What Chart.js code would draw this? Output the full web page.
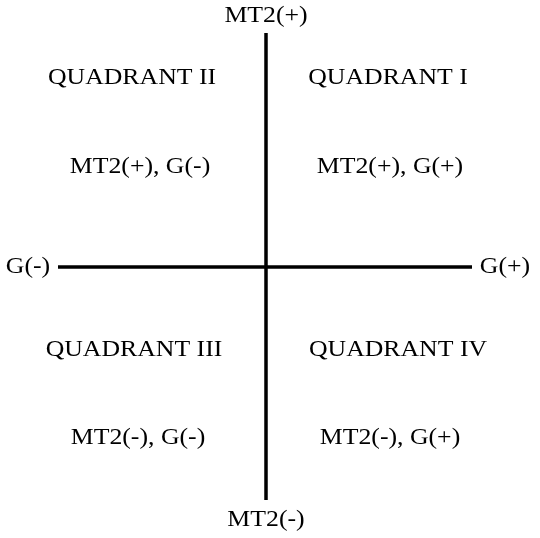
<!DOCTYPE html>
<html>
<head>
<meta charset="utf-8">
<script src="https://cdn.jsdelivr.net/npm/chart.js@4/dist/chart.umd.min.js"></script>
<style>
  html, body { margin: 0; padding: 0; background: #fff; }
  #wrap { width: 540px; height: 538px; }
</style>
</head>
<body>
<div id="wrap"><canvas id="c"></canvas></div>
<script>
// Axis lines (origin at the crossing)
const vAxis = [{ x: 0, y: 234 }, { x: 0, y: -233 }];
const hAxis = [{ x: -208, y: 0 }, { x: 206, y: 0 }];

// Text labels and their positions in the same units
const labelTexts = [
  'MT2(+)', 'MT2(-)', 'G(-)', 'G(+)',
  'QUADRANT II', 'QUADRANT I', 'MT2(+), G(-)', 'MT2(+), G(+)',
  'QUADRANT III', 'QUADRANT IV', 'MT2(-), G(-)', 'MT2(-), G(+)'
];
const labelX = [0, 0, -238, 239, -134, 122, -126, 124, -132, 132, -128, 124];
const labelY = [251, -253, 0, 0, 189, 189, 100, 100, -83, -83, -171, -171];

const textPlugin = {
  id: 'quadText',
  afterDatasetsDraw(chart) {
    const { ctx, scales: { x, y } } = chart;
    ctx.save();
    ctx.fillStyle = '#000';
    ctx.font = '23px "Liberation Serif", "Times New Roman", serif';
    ctx.textAlign = 'center';
    ctx.textBaseline = 'middle';
    labelTexts.forEach((t, i) => {
      ctx.save();
      ctx.translate(x.getPixelForValue(labelX[i]), y.getPixelForValue(labelY[i]));
      ctx.scale(1.12, 1);
      ctx.fillText(t, 0, 0);
      ctx.restore();
    });
    ctx.restore();
  }
};

new Chart(document.getElementById('c'), {
  type: 'scatter',
  data: {
    datasets: [
      { data: vAxis, showLine: true, borderColor: '#000', borderWidth: 3.5, pointRadius: 0 },
      { data: hAxis, showLine: true, borderColor: '#000', borderWidth: 3.5, pointRadius: 0 }
    ]
  },
  options: {
    responsive: true,
    maintainAspectRatio: false,
    animation: false,
    layout: { padding: 0 },
    plugins: { legend: { display: false }, tooltip: { enabled: false } },
    scales: {
      x: { type: 'linear', min: -266, max: 274, display: false },
      y: { type: 'linear', min: -271, max: 267, display: false }
    }
  },
  plugins: [textPlugin]
});
</script>
</body>
</html>
